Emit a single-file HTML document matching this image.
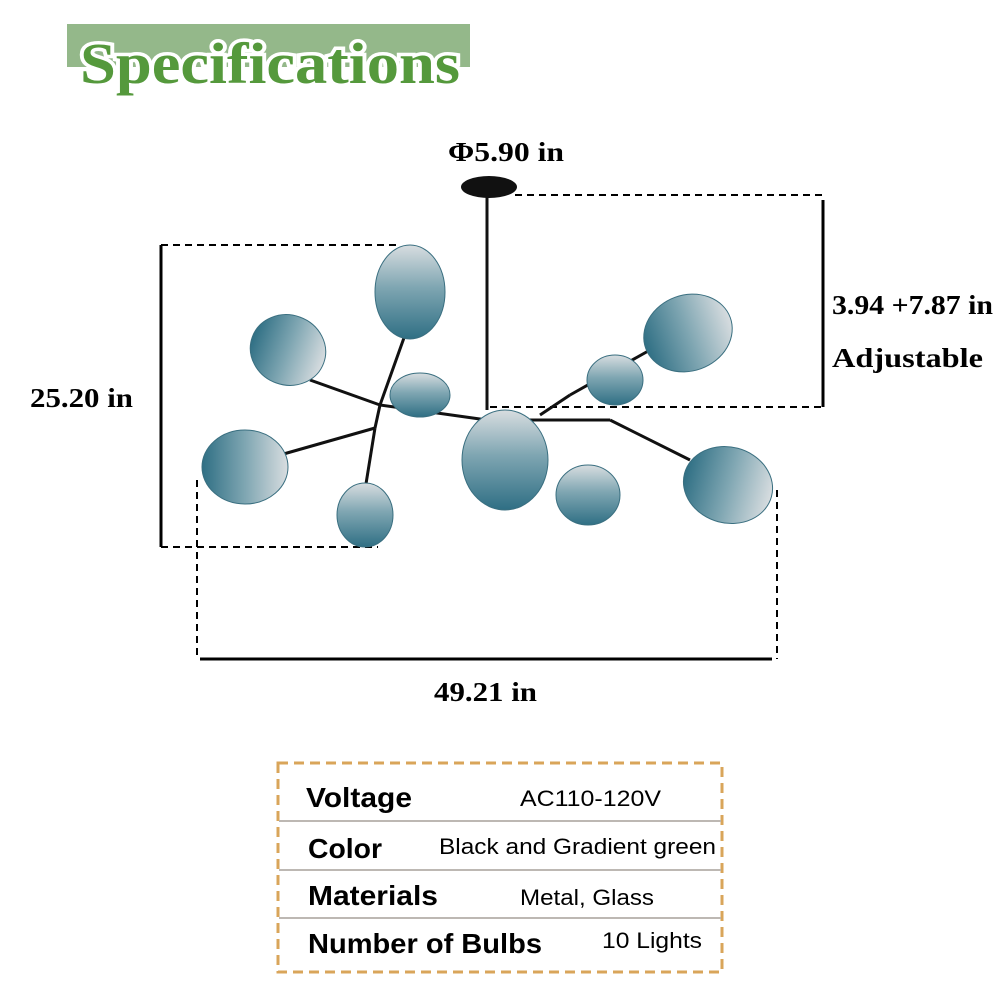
<!DOCTYPE html>
<html><head><meta charset="utf-8"><style>
body{margin:0;background:#fff;width:1000px;height:1000px;overflow:hidden}
svg{display:block}
</style></head><body>
<svg width="1000" height="1000" viewBox="0 0 1000 1000" xmlns="http://www.w3.org/2000/svg">
<defs>
<linearGradient id="g" x1="0" y1="0" x2="0" y2="1">
<stop offset="0" stop-color="#d8dde0"/><stop offset="0.45" stop-color="#7fa6b2"/><stop offset="1" stop-color="#2f6f84"/>
</linearGradient>
<linearGradient id="g2" x1="1" y1="0" x2="0" y2="0">
<stop offset="0" stop-color="#d8dde0"/><stop offset="0.5" stop-color="#7fa6b2"/><stop offset="1" stop-color="#2f6f84"/>
</linearGradient>
</defs>
<rect x="67" y="24" width="403" height="43" fill="#94b88a"/>
<text x="80" y="83" font-family="Liberation Serif, serif" font-weight="bold" font-size="58" fill="#55993c" stroke="#fff" stroke-width="7" paint-order="stroke" textLength="380" lengthAdjust="spacingAndGlyphs">Specifications</text>

<g stroke="#000" fill="none">
<line x1="161" y1="245" x2="161" y2="547" stroke-width="3"/>
<line x1="161" y1="245" x2="400" y2="245" stroke-width="2" stroke-dasharray="7,5"/>
<line x1="161" y1="547" x2="378" y2="547" stroke-width="2" stroke-dasharray="7,5"/>
<line x1="823" y1="200" x2="823" y2="407" stroke-width="3"/>
<line x1="515" y1="195" x2="823" y2="195" stroke-width="2" stroke-dasharray="7,5"/>
<line x1="490" y1="407" x2="823" y2="407" stroke-width="2" stroke-dasharray="7,5"/>
<line x1="200" y1="659" x2="772" y2="659" stroke-width="3"/>
<line x1="197" y1="480" x2="197" y2="659" stroke-width="2" stroke-dasharray="7,5"/>
<line x1="777" y1="490" x2="777" y2="659" stroke-width="2" stroke-dasharray="7,5"/>
</g>

<g font-family="Liberation Serif, serif" font-weight="bold" font-size="27" fill="#000" lengthAdjust="spacingAndGlyphs">
<text x="448" y="161" textLength="116" lengthAdjust="spacingAndGlyphs">Φ5.90 in</text>
<text x="30" y="407" textLength="103" lengthAdjust="spacingAndGlyphs">25.20 in</text>
<text x="832" y="314" textLength="161" lengthAdjust="spacingAndGlyphs">3.94 +7.87 in</text>
<text x="832" y="367" textLength="151" lengthAdjust="spacingAndGlyphs">Adjustable</text>
<text x="434" y="701" textLength="103" lengthAdjust="spacingAndGlyphs">49.21 in</text>
</g>

<!-- chandelier -->
<ellipse cx="489" cy="187" rx="28" ry="11" fill="#111"/>
<g stroke="#111" stroke-width="3" fill="none">
<line x1="487" y1="190" x2="487" y2="410"/>
<line x1="380" y1="405" x2="487" y2="420"/>
<line x1="487" y1="420" x2="610" y2="420"/>
<line x1="380" y1="405" x2="310" y2="380"/>
<line x1="380" y1="405" x2="405" y2="335"/>
<line x1="375" y1="428" x2="280" y2="455"/>
<line x1="375" y1="428" x2="365" y2="490"/>
<line x1="380" y1="405" x2="375" y2="428"/>
<line x1="540" y1="415" x2="570" y2="395"/>
<line x1="610" y1="420" x2="690" y2="460"/>
<line x1="570" y1="395" x2="650" y2="350"/>
</g>
<g stroke="#3a6f80" stroke-width="1">
<ellipse cx="410" cy="292" rx="35" ry="47" fill="url(#g)"/>
<ellipse cx="288" cy="350" rx="38" ry="35" fill="url(#g2)" transform="rotate(20 288 350)"/>
<ellipse cx="245" cy="467" rx="43" ry="37" fill="url(#g2)"/>
<ellipse cx="365" cy="515" rx="28" ry="32" fill="url(#g)"/>
<ellipse cx="420" cy="395" rx="30" ry="22" fill="url(#g)"/>
<ellipse cx="505" cy="460" rx="43" ry="50" fill="url(#g)"/>
<ellipse cx="588" cy="495" rx="32" ry="30" fill="url(#g)"/>
<ellipse cx="615" cy="380" rx="28" ry="25" fill="url(#g)"/>
<ellipse cx="688" cy="333" rx="45" ry="38" fill="url(#g2)" transform="rotate(-20 688 333)"/>
<ellipse cx="728" cy="485" rx="45" ry="38" fill="url(#g2)" transform="rotate(15 728 485)"/>
</g>

<!-- table -->
<rect x="278" y="763" width="444" height="209" fill="none" stroke="#d9a55a" stroke-width="3" stroke-dasharray="10,6"/>
<g stroke="#bdb8b3" stroke-width="2">
<line x1="279" y1="821" x2="721" y2="821"/>
<line x1="279" y1="870" x2="721" y2="870"/>
<line x1="279" y1="918" x2="721" y2="918"/>
</g>
<g font-family="Liberation Sans, sans-serif" fill="#000">
<text x="306" y="807" font-size="28" font-weight="bold" textLength="106" lengthAdjust="spacingAndGlyphs">Voltage</text>
<text x="308" y="858" font-size="28" font-weight="bold" textLength="74" lengthAdjust="spacingAndGlyphs">Color</text>
<text x="308" y="905" font-size="28" font-weight="bold" textLength="130" lengthAdjust="spacingAndGlyphs">Materials</text>
<text x="308" y="953" font-size="28" font-weight="bold" textLength="234" lengthAdjust="spacingAndGlyphs">Number of Bulbs</text>
<text x="520" y="806" font-size="22" textLength="141" lengthAdjust="spacingAndGlyphs">AC110-120V</text>
<text x="439" y="854" font-size="22" textLength="277" lengthAdjust="spacingAndGlyphs">Black and Gradient green</text>
<text x="520" y="905" font-size="22" textLength="134" lengthAdjust="spacingAndGlyphs">Metal, Glass</text>
<text x="602" y="948" font-size="22" textLength="100" lengthAdjust="spacingAndGlyphs">10 Lights</text>
</g>
</svg>
</body></html>
